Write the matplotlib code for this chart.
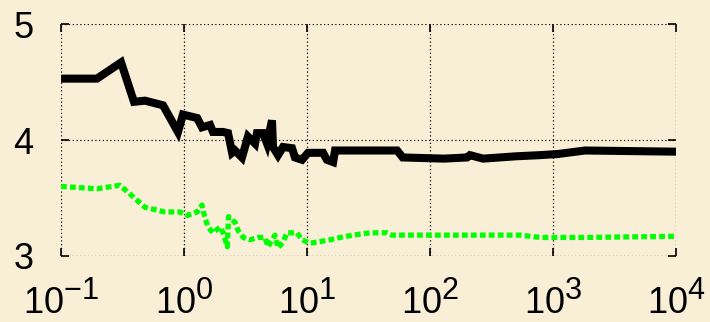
import matplotlib
matplotlib.use("Agg")

import matplotlib.pyplot as plt
import matplotlib._mathtext as mathtext_internal

# bigger superscripts, closer to the reference tick labels
mathtext_internal.SHRINK_FACTOR = 0.85

plt.rcParams["font.family"] = ["Liberation Sans", "DejaVu Sans"]
plt.rcParams["mathtext.fontset"] = "custom"
plt.rcParams["mathtext.rm"] = "Liberation Sans"
plt.rcParams["mathtext.default"] = "regular"

# data
black_x = [0.1, 0.196, 0.308, 0.392, 0.482, 0.675, 0.893, 0.98, 1.28, 1.40,
           1.63, 1.72, 2.08, 2.28, 2.46, 2.60, 2.96, 3.31, 3.78, 3.92, 4.39,
           4.73, 5.19, 5.29, 5.81, 6.38, 7.55, 7.98, 9.10, 10.2, 13.5, 14.5,
           16.3, 16.9, 54, 60, 130, 200, 211, 270, 500, 784, 1100, 1820, 10000]
black_y = [4.53, 4.53, 4.67, 4.33, 4.34, 4.30, 4.07, 4.22, 4.19, 4.11,
           4.13, 4.07, 4.07, 4.06, 3.89, 3.91, 3.85, 4.03, 3.97, 4.06, 4.06,
           3.97, 4.17, 3.94, 3.87, 3.94, 3.93, 3.85, 3.83, 3.89, 3.89, 3.83,
           3.81, 3.91, 3.91, 3.85, 3.84, 3.85, 3.87, 3.84, 3.86, 3.87, 3.88, 3.91, 3.90]

green_x = [0.1, 0.196, 0.302, 0.482, 0.700, 0.925, 1.07, 1.28, 1.40, 1.48,
           1.57, 1.72, 1.97, 2.08, 2.25, 2.30, 2.60, 2.75, 3.03, 3.45, 3.99,
           4.55, 4.82, 5.49, 5.81, 6.38, 6.88, 8.29, 9.10, 10.6, 12.0, 15.4,
           18.6, 23.7, 32.5, 44.6, 48.9, 536, 784, 1820, 10000]
green_y = [3.60, 3.58, 3.61, 3.42, 3.38, 3.38, 3.35, 3.38, 3.44, 3.33,
           3.25, 3.20, 3.25, 3.20, 3.08, 3.34, 3.29, 3.22, 3.16, 3.14, 3.16,
           3.16, 3.08, 3.18, 3.07, 3.12, 3.20, 3.20, 3.14, 3.11, 3.12, 3.14,
           3.16, 3.18, 3.20, 3.20, 3.18, 3.18, 3.16, 3.16, 3.17]

x_ticks = [0.1, 1, 10, 100, 1000, 10000]
x_tick_labels = [r"$10^{-1}$", r"$10^{0}$", r"$10^{1}$", r"$10^{2}$", r"$10^{3}$", r"$10^{4}$"]
y_ticks = [3, 4, 5]

bg = "#F9EFD7"

fig = plt.figure(figsize=(7.10, 3.22), dpi=100, facecolor=bg)
ax = fig.add_axes([0.0859, 0.205, 0.8663, 0.720])
ax.set_facecolor(bg)

ax.plot(green_x, green_y, color="#00FF00", lw=3.8, linestyle=(0, (1.1, 0.6)),
        dash_capstyle="butt", zorder=3)
ax.plot(black_x, black_y, color="black", lw=5.8, solid_joinstyle="miter", zorder=4)

ax.set_xscale("log")
ax.set_xlim(0.1, 10000)
ax.set_ylim(3, 5)
ax.set_xticks(x_ticks)
ax.set_xticklabels(x_tick_labels)
ax.set_yticks(y_ticks)
ax.minorticks_off()

ax.grid(True, color="black", linestyle=(0, (1, 2)), lw=0.9)
for side in ax.spines.values():
    side.set_visible(False)

ax.tick_params(axis="both", direction="in", length=6, width=1.2,
               top=True, right=True, labelsize=26)
ax.tick_params(axis="y", pad=20)
ax.tick_params(axis="x", pad=19)

fig.savefig("out.png", dpi=100, facecolor=bg)
